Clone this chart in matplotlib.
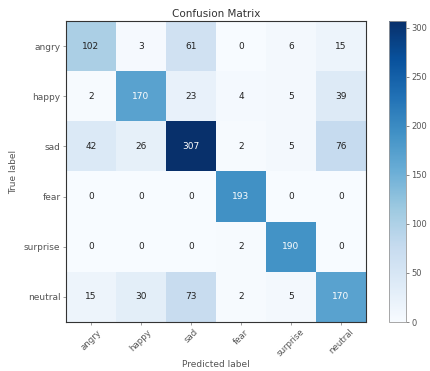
import numpy as np
import matplotlib
matplotlib.use("Agg")
import matplotlib.pyplot as plt

# Emotion classes and the confusion matrix counts (rows = true, cols = predicted)
classes = ["angry", "happy", "sad", "fear", "surprise", "neutral"]
row_angry = [102, 3, 61, 0, 6, 15]
row_happy = [2, 170, 23, 4, 5, 39]
row_sad = [42, 26, 307, 2, 5, 76]
row_fear = [0, 0, 0, 193, 0, 0]
row_surprise = [0, 0, 0, 2, 190, 0]
row_neutral = [15, 30, 73, 2, 5, 170]
cbar_ticks = [0, 50, 100, 150, 200, 250, 300]

cm = np.array([row_angry, row_happy, row_sad, row_fear, row_surprise, row_neutral])

fig = plt.figure(figsize=(4.31, 3.71), dpi=100)
ax = fig.add_axes([66 / 431, 49 / 371, 300 / 431, 301 / 371])
cax = fig.add_axes([389 / 431, 49 / 371, 17 / 431, 301 / 371])

im = ax.imshow(cm, interpolation="nearest", cmap=plt.cm.Blues, aspect="auto")
ax.set_title("Confusion Matrix", fontsize=7.5, pad=3, color="#333333")

cbar = fig.colorbar(im, cax=cax, ticks=cbar_ticks)
cbar.ax.tick_params(labelsize=6, length=2, width=0.5, colors="#555555", pad=2)
cbar.outline.set_linewidth(0.6)
cbar.outline.set_edgecolor("#999999")

ticks = np.arange(len(classes))
ax.set_xticks(ticks)
ax.set_xticklabels(classes, rotation=45, fontsize=6.2, color="#555555")
ax.set_yticks(ticks)
ax.set_yticklabels(classes, fontsize=6.5, color="#555555")
ax.tick_params(length=2, width=0.5, color="#777777", pad=2)

thresh = cm.max() / 2.0
for i in range(cm.shape[0]):
    for j in range(cm.shape[1]):
        ax.text(j, i, format(cm[i, j], "d"), ha="center", va="center", fontsize=6.5,
                color="white" if cm[i, j] > thresh else "#222222")

for spine in ax.spines.values():
    spine.set_linewidth(0.8)
    spine.set_color("#333333")

ax.set_ylabel("True label", fontsize=6.5, color="#555555")
ax.set_xlabel("Predicted label", fontsize=6.5, color="#555555", labelpad=1)

fig.savefig("out.png", dpi=100)
